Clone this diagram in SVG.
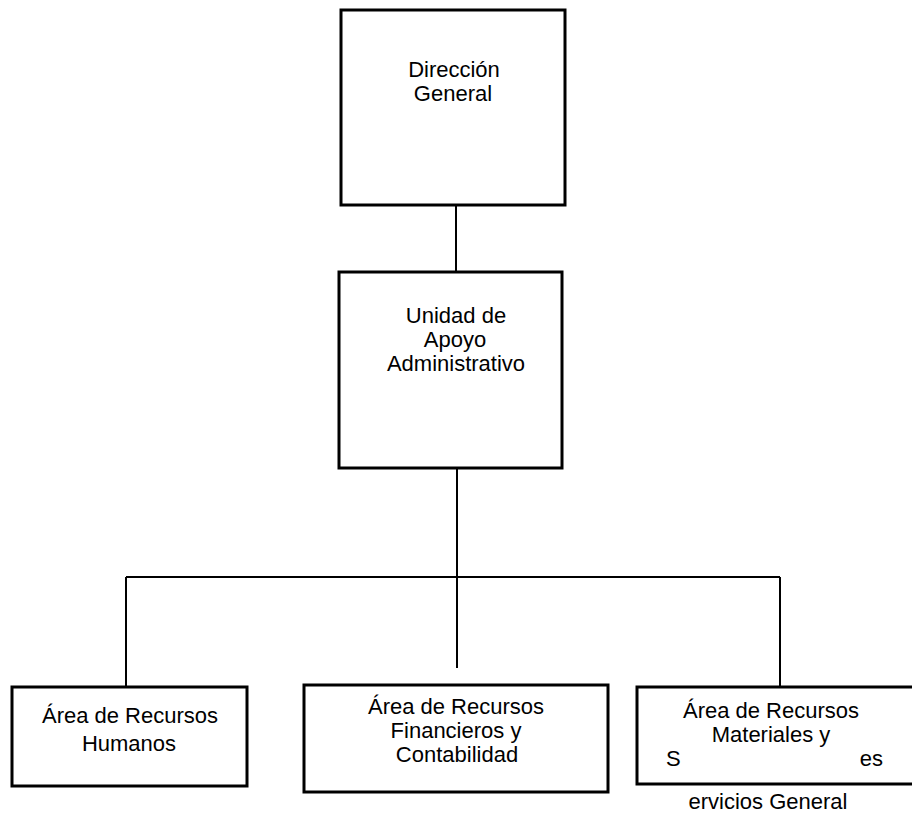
<svg xmlns="http://www.w3.org/2000/svg" width="912" height="814" viewBox="0 0 912 814">
  <style>
    .box { fill: #ffffff; stroke: #000000; stroke-width: 3; }
    .link { fill: none; stroke: #000000; stroke-width: 2; }
    .label { font-family: "Liberation Sans", Arial, sans-serif; font-size: 22px; fill: #000000; text-anchor: middle; }
    .plain { font-family: "Liberation Sans", Arial, sans-serif; font-size: 22px; fill: #000000; }
  </style>
  <rect width="912" height="814" fill="#ffffff"/>

  <!-- connectors -->
  <g id="connectors">
    <line class="link" x1="456" y1="205" x2="456" y2="272"/>
    <line class="link" x1="457" y1="468" x2="457" y2="668"/>
    <line class="link" x1="126" y1="577" x2="780" y2="577"/>
    <line class="link" x1="126" y1="577" x2="126" y2="687"/>
    <line class="link" x1="780" y1="577" x2="780" y2="690"/>
  </g>

  <g id="direccion-general">
    <rect class="box" x="341" y="10" width="224" height="195"/>
    <text class="label" x="454" y="77">Dirección</text>
    <text class="label" x="453" y="101">General</text>
  </g>

  <g id="unidad-apoyo">
    <rect class="box" x="339" y="272" width="223" height="196"/>
    <text class="label" x="456" y="323">Unidad de</text>
    <text class="label" x="455" y="347">Apoyo</text>
    <text class="label" x="456" y="371">Administrativo</text>
  </g>

  <g id="recursos-humanos">
    <rect class="box" x="12" y="687" width="235" height="99"/>
    <text class="label" x="130" y="723">Área de Recursos</text>
    <text class="label" x="129" y="751">Humanos</text>
  </g>

  <g id="recursos-financieros">
    <rect class="box" x="304" y="685" width="304" height="107"/>
    <text class="label" x="456" y="714">Área de Recursos</text>
    <text class="label" x="456" y="738">Financieros y</text>
    <text class="label" x="457" y="762">Contabilidad</text>
  </g>

  <g id="recursos-materiales">
    <rect class="box" x="637" y="687" width="280" height="97"/>
    <text class="label" x="771" y="718">Área de Recursos</text>
    <text class="label" x="771" y="742">Materiales y</text>
    <text class="plain" x="666" y="766">S</text>
    <text class="plain" x="883" y="766" text-anchor="end">es</text>
    <text class="label" x="768" y="809">ervicios General</text>
  </g>
</svg>
